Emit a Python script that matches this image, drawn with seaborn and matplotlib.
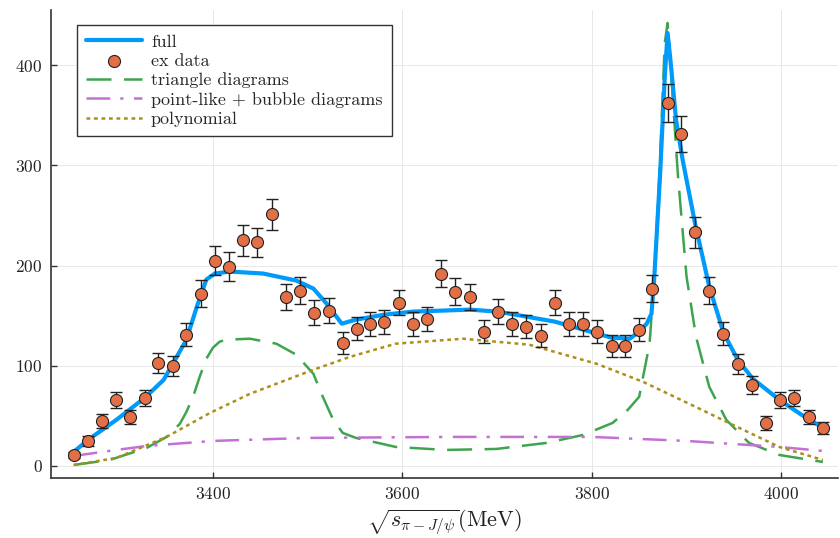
import numpy as np
import pandas as pd
import matplotlib
matplotlib.use("Agg")
import matplotlib.pyplot as plt
import seaborn as sns

# ---------------- data ----------------
data_x = [3253, 3268, 3283, 3298, 3312, 3328, 3342, 3358, 3372, 3387,
          3402, 3417, 3432, 3447, 3462, 3477, 3492, 3507, 3522, 3537,
          3552, 3566, 3581, 3596, 3611, 3626, 3641, 3656, 3671, 3686,
          3701, 3716, 3731, 3746, 3761, 3776, 3791, 3805, 3821, 3835,
          3850, 3864, 3880, 3894, 3909, 3924, 3939, 3954, 3969, 3984,
          3999, 4014, 4029, 4044]
data_y = [11, 25, 45, 66, 49, 68, 103, 100, 131, 172,
          205, 199, 225, 223, 251, 169, 175, 153, 155, 123,
          137, 142, 144, 163, 142, 147, 192, 174, 169, 134,
          154, 142, 139, 130, 163, 142, 142, 134, 120, 120,
          136, 177, 362, 331, 233, 175, 132, 102, 81, 43,
          66, 68, 49, 38]
data_err = [3.3, 5.0, 6.7, 8.1, 7.0, 8.2, 10.1, 10.0, 11.4, 13.1,
            14.3, 14.1, 15.0, 14.9, 15.8, 13.0, 13.2, 12.4, 12.4, 11.1,
            11.7, 11.9, 12.0, 12.8, 11.9, 12.1, 13.9, 13.2, 13.0, 11.6,
            12.4, 11.9, 11.8, 11.4, 12.8, 11.9, 11.9, 11.6, 11.0, 11.0,
            11.7, 13.3, 19.0, 18.2, 15.3, 13.2, 11.5, 10.1, 9.0, 6.6,
            8.1, 8.2, 7.0, 6.2]

full_x = [3253, 3268, 3298, 3328, 3348, 3372, 3383, 3393, 3402, 3418,
          3453, 3488, 3506, 3520, 3536, 3551, 3581, 3611, 3671, 3701,
          3731, 3761, 3791, 3821, 3840, 3850, 3858, 3863, 3866, 3872,
          3877, 3880, 3883, 3889, 3896, 3909, 3924, 3939, 3954, 3970,
          3998, 4020, 4044]
full_y = [14, 26, 46, 68, 86, 126, 159, 186, 192, 194,
          192, 185, 177, 162, 142, 146, 151, 154, 156, 154,
          149, 144, 136, 128, 127, 134, 142, 152, 189, 289,
          388, 432, 405, 345, 305, 242, 179, 133, 106, 87,
          66, 52, 38]

tri_x = [3253, 3291, 3330, 3351, 3365, 3372, 3379, 3386, 3393, 3400,
         3407, 3414, 3439, 3467, 3488, 3506, 3516, 3527, 3537, 3551,
         3593, 3646, 3699, 3752, 3791, 3822, 3838, 3850, 3861, 3866,
         3872, 3877, 3880, 3884, 3891, 3900, 3910, 3924, 3942, 3966,
         3998, 4044]
tri_y = [1, 6, 18, 29, 42, 54, 69, 89, 107, 118,
         124, 126, 127, 122, 111, 92, 69, 46, 33, 28,
         19, 16, 17, 23, 31, 43, 56, 69, 122, 189,
         305, 422, 442, 388, 289, 189, 129, 79, 46, 23,
         11, 4]

pl_x = [3253, 3290, 3330, 3400, 3500, 3650, 3800, 3900, 3998, 4044]
pl_y = [10, 15, 20, 25, 28, 29, 29, 25, 19, 15]

poly_x = [3253, 3298, 3351, 3397, 3439, 3506, 3545, 3593, 3664, 3734,
          3805, 3854, 3914, 3949, 3998, 4044]
poly_y = [1, 8, 29, 53, 72, 96, 109, 122, 127, 121,
          102, 84, 57, 41, 19, 6]

x_ticks = [3400, 3600, 3800, 4000]
y_ticks = [0, 100, 200, 300, 400]

# ---------------- style ----------------
sns.set_theme(style="white")
plt.rcParams["font.family"] = ["cmr10", "DejaVu Serif"]
plt.rcParams["mathtext.fontset"] = "cm"
plt.rcParams["axes.formatter.use_mathtext"] = True

C_FULL = "#009AFA"
C_DATA = "#E36F47"
C_TRI = "#3EA44E"
C_PL = "#C371D2"
C_POLY = "#AC8E18"

fig = plt.figure(figsize=(8.4, 5.38), dpi=100)
ax = fig.add_axes([0.0607, 0.1115, 0.937, 0.870])

df_full = pd.DataFrame({"x": full_x, "y": full_y})
df_tri = pd.DataFrame({"x": tri_x, "y": tri_y})
df_pl = pd.DataFrame({"x": pl_x, "y": pl_y})
df_poly = pd.DataFrame({"x": poly_x, "y": poly_y})
df_data = pd.DataFrame({"x": data_x, "y": data_y, "err": data_err})

sns.lineplot(data=df_full, x="x", y="y", ax=ax, color=C_FULL, lw=3.0,
             sort=False, estimator=None, label="full", zorder=3)
ax.errorbar(df_data["x"], df_data["y"], yerr=df_data["err"], fmt="none",
            ecolor="#222222", elinewidth=1.0, capsize=4.5, capthick=1.0, zorder=4)
sns.scatterplot(data=df_data, x="x", y="y", ax=ax, color=C_DATA, s=75,
                edgecolor="#222222", linewidth=0.8, label="ex data", zorder=5)
sns.lineplot(data=df_tri, x="x", y="y", ax=ax, color=C_TRI, lw=1.8,
             sort=False, estimator=None, label="triangle diagrams",
             dashes=(10, 5), zorder=2)
sns.lineplot(data=df_pl, x="x", y="y", ax=ax, color=C_PL, lw=1.8,
             sort=False, estimator=None, label="point-like + bubble diagrams",
             dashes=(9.5, 4, 1.3, 4.2), zorder=2)
sns.lineplot(data=df_poly, x="x", y="y", ax=ax, color=C_POLY, lw=1.8,
             sort=False, estimator=None, label="polynomial",
             dashes=(1.5, 1.5), zorder=2)

ax.set_xlim(3229, 4060)
ax.set_ylim(-12, 455)
ax.set_xticks(x_ticks)
ax.set_yticks(y_ticks)
ax.grid(True, color="#e8e8e8", lw=0.7)
for s in ["top", "right"]:
    ax.spines[s].set_visible(False)
for s in ["left", "bottom"]:
    ax.spines[s].set_color("#333333")
    ax.spines[s].set_linewidth(1.2)
ax.tick_params(axis="both", direction="in", length=4, width=1, color="#333333",
               labelsize=12.5, labelcolor="#222222", bottom=True, left=True, pad=6)
ax.set_ylabel("")
ax.set_xlabel(r"$\sqrt{s_{\pi - J/\psi}}(\mathrm{MeV})$", fontsize=16, labelpad=4,
              color="#222222")

leg = ax.legend(loc="upper left", bbox_to_anchor=(0.033, 0.968), fontsize=13,
                frameon=True, fancybox=False, edgecolor="#333333",
                handlelength=3.1, labelspacing=0.2, borderpad=0.5,
                handletextpad=0.5, borderaxespad=0.0)
leg.get_frame().set_linewidth(1.0)
leg.get_frame().set_alpha(1.0)

fig.savefig("out.png", dpi=100)
